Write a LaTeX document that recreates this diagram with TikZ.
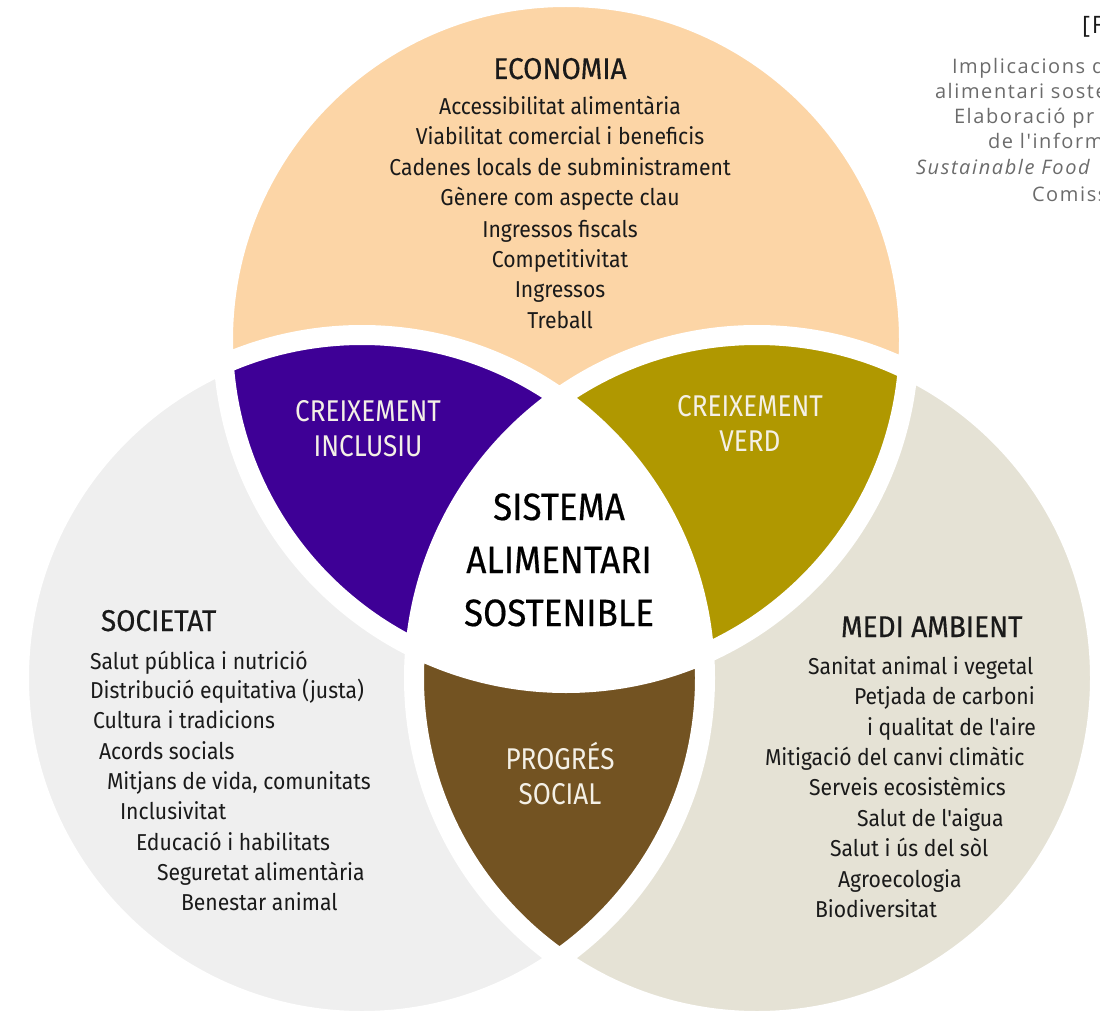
\documentclass[tikz,border=0pt]{standalone}
\usepackage{fontspec}
\setmainfont{Fira Sans}
\newfontfamily\listfont[FakeStretch=0.92]{Fira Sans}
\newfontfamily\headfont[FakeStretch=0.93,FakeBold=0.5]{Fira Sans}
\newfontfamily\centfont[FakeStretch=0.92,FakeBold=0.5]{Fira Sans}
\newfontfamily\labfont[FakeStretch=0.87]{Fira Sans}
\newfontfamily\srcfont[LetterSpace=8]{Open Sans}
\newfontfamily\srcitfont[LetterSpace=8]{Open Sans Italic}
\definecolor{cPeach}{HTML}{FCD5A6}
\definecolor{cGray}{HTML}{EFEFEF}
\definecolor{cBeige}{HTML}{E5E2D5}
\definecolor{cPurple}{HTML}{3E0096}
\definecolor{cOlive}{HTML}{B09800}
\definecolor{cBrown}{HTML}{735322}
\definecolor{cText}{HTML}{1A1A1A}
\definecolor{cLab}{HTML}{F4F0E6}
\definecolor{cSrc}{HTML}{6B6B6B}
\tikzset{
  every node/.style={inner sep=0pt, outer sep=0pt},
  ltxt/.style={font=\listfont\fontsize{23}{27}\selectfont, text=cText},
  htxt/.style={font=\headfont\fontsize{30}{34}\selectfont, text=cText},
  ctxt/.style={font=\centfont\fontsize{38}{42}\selectfont, text=black},
  labtxt/.style={font=\labfont\fontsize{30}{34}\selectfont, text=cLab},
  srctxt/.style={font=\srcfont\fontsize{20}{24}\selectfont, text=cSrc, anchor=base west},
}
\begin{document}
\begin{tikzpicture}[x=1pt,y=-1pt]
\path[use as bounding box] (0,0) rectangle (1100,1011);
\clip (0,0) rectangle (1100,1011);
% circles
\fill[cPeach] (566,340) circle (343);
\fill[cGray] (362,678) circle (343);
\fill[cBeige] (757,678) circle (343);
\begin{scope}
  \clip (566,340) circle (343);
  \fill[cPurple] (362,678) circle (343);
\end{scope}
\begin{scope}
  \clip (566,340) circle (343);
  \fill[cOlive] (757,678) circle (343);
\end{scope}
\begin{scope}
  \clip (362,678) circle (343);
  \fill[cBrown] (757,678) circle (343);
\end{scope}
\begin{scope}
  \clip (566,340) circle (343);
  \clip (362,678) circle (343);
  \fill[white] (757,678) circle (343);
\end{scope}
\draw[white, line width=20] (566,340) circle (343) (362,678) circle (343) (757,678) circle (343);

% source text (cut at the edge)
\node[font=\srcfont\fontsize{24}{28}\selectfont, text=cText, anchor=base west] (src0) at (1082,34) {[F};
\node[srctxt] (src1) at (952,74) {Implicacions d};
\node[srctxt] (src2) at (935,99) {alimentari soste};
\node[srctxt] (src3) at (954,124) {Elaboració pr};
\node[srctxt] (src4) at (988,149) {de l'inform};
\node[srctxt, font=\srcitfont\fontsize{20}{24}\selectfont] (src5) at (916,175) {Sustainable Food};
\node[srctxt] (src6) at (1032,201) {Comiss};

% ECONOMIA
\node[htxt, anchor=base] (eco) at (560,79) {ECONOMIA};
\node[ltxt, anchor=base] (e1) at (560,115) {Accessibilitat alimentària};
\node[ltxt, anchor=base] (e2) at (560,145) {Viabilitat comercial i beneficis};
\node[ltxt, anchor=base] (e3) at (560,176) {Cadenes locals de subministrament};
\node[ltxt, anchor=base] (e4) at (560,206) {Gènere com aspecte clau};
\node[ltxt, anchor=base] (e5) at (560,237) {Ingressos fiscals};
\node[ltxt, anchor=base] (e6) at (560,267) {Competitivitat};
\node[ltxt, anchor=base] (e7) at (560,297) {Ingressos};
\node[ltxt, anchor=base] (e8) at (560,328) {Treball};

% SOCIETAT
\node[htxt, anchor=base west] (soc) at (101,631) {SOCIETAT};
\node[ltxt, anchor=base west] (s1) at (90,669) {Salut pública i nutrició};
\node[ltxt, anchor=base west] (s2) at (90,698) {Distribució equitativa (justa)};
\node[ltxt, anchor=base west] (s3) at (93,728) {Cultura i tradicions};
\node[ltxt, anchor=base west] (s4) at (99,759) {Acords socials};
\node[ltxt, anchor=base west] (s5) at (107,789) {Mitjans de vida, comunitats};
\node[ltxt, anchor=base west] (s6) at (120,819) {Inclusivitat};
\node[ltxt, anchor=base west] (s7) at (136,850) {Educació i habilitats};
\node[ltxt, anchor=base west] (s8) at (157,880) {Seguretat alimentària};
\node[ltxt, anchor=base west] (s9) at (181,910) {Benestar animal};

% MEDI AMBIENT
\node[htxt, anchor=base west] (med) at (841,637) {MEDI AMBIENT};
\node[ltxt, anchor=base west] (m1) at (808,674) {Sanitat animal i vegetal};
\node[ltxt, anchor=base west] (m2) at (854,704) {Petjada de carboni};
\node[ltxt, anchor=base west] (m3) at (867,735) {i qualitat de l'aire};
\node[ltxt, anchor=base west] (m4) at (765,765) {Mitigació del canvi climàtic};
\node[ltxt, anchor=base west] (m5) at (809,795) {Serveis ecosistèmics};
\node[ltxt, anchor=base west] (m6) at (857,826) {Salut de l'aigua};
\node[ltxt, anchor=base west] (m7) at (830,856) {Salut i ús del sòl};
\node[ltxt, anchor=base west] (m8) at (838,887) {Agroecologia};
\node[ltxt, anchor=base west] (m9) at (815,917) {Biodiversitat};

% intersection labels
\node[labtxt, anchor=base] (ci1) at (368,421) {CREIXEMENT};
\node[labtxt, anchor=base] (ci2) at (368,456) {INCLUSIU};
\node[labtxt, anchor=base] (cv1) at (750,416) {CREIXEMENT};
\node[labtxt, anchor=base] (cv2) at (750,451) {VERD};
\node[labtxt, anchor=base] (ps1) at (560,769) {PROGRÉS};
\node[labtxt, anchor=base] (ps2) at (560,804) {SOCIAL};

% centre
\node[ctxt, anchor=base] (c1) at (559,520) {SISTEMA};
\node[ctxt, anchor=base] (c2) at (559,573) {ALIMENTARI};
\node[ctxt, anchor=base] (c3) at (559,626) {SOSTENIBLE};
\end{tikzpicture}
\end{document}
